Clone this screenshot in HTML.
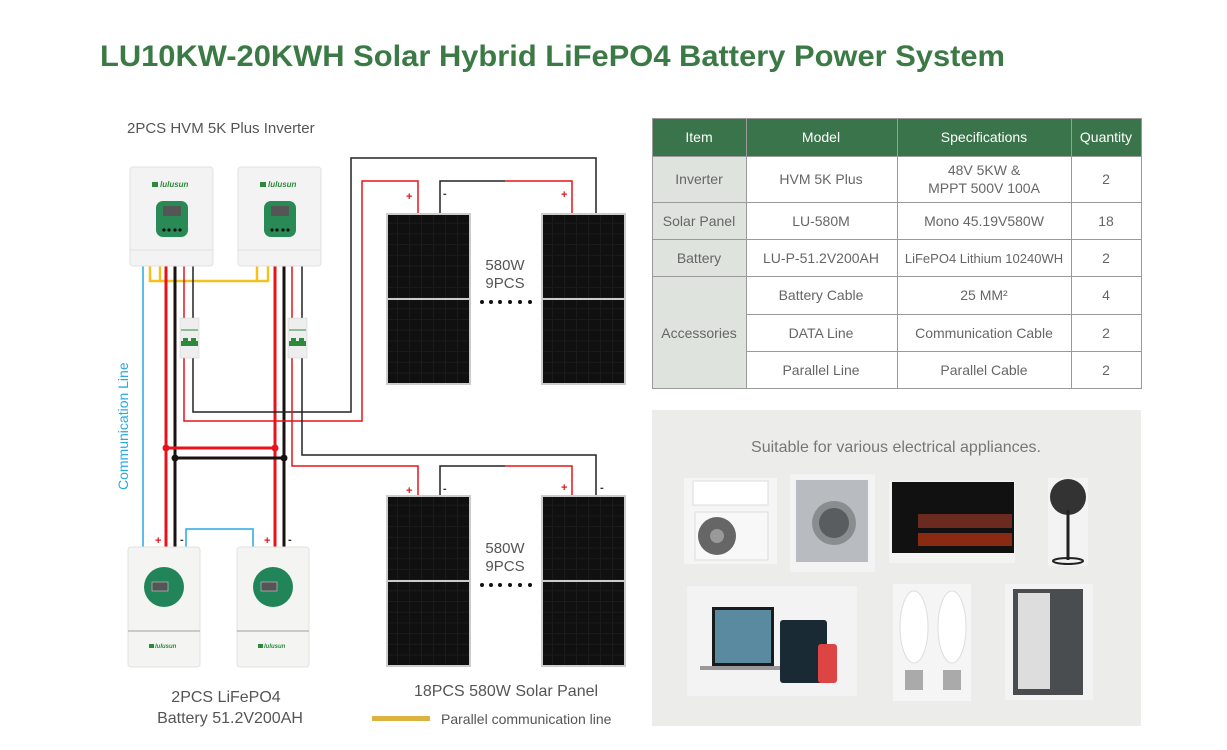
<!DOCTYPE html>
<html><head><meta charset="utf-8"><style>
html,body{margin:0;padding:0;background:#fff;}
svg{display:block;font-family:"Liberation Sans",sans-serif;}
</style></head><body>
<svg width="1227" height="750" viewBox="0 0 1227 750" xmlns="http://www.w3.org/2000/svg">
<defs>
<pattern id="cells" width="12" height="10.7" patternUnits="userSpaceOnUse">
<rect width="12" height="10.7" fill="#1b1b1b"/>
<rect x="0" y="0" width="11" height="9.7" fill="#101010"/>
</pattern>
<g id="panel">
<rect x="0" y="0" width="85" height="172" fill="#ccc"/>
<rect x="2" y="2" width="81" height="83" fill="url(#cells)"/>
<rect x="2" y="87" width="81" height="83" fill="url(#cells)"/>
</g>
<g id="inv">
<rect x="0" y="0" width="83" height="99" rx="3" fill="#f3f3f3" stroke="#e2e2e2"/>
<line x1="0" y1="83" x2="83" y2="83" stroke="#e0e0e0"/>
<rect x="22" y="15" width="6" height="5" fill="#2d8a3c"/>
<text x="30" y="20" font-size="8" font-style="italic" font-weight="bold" fill="#2d8a3c">lulusun</text>
<rect x="26" y="34" width="32" height="36" rx="7" fill="#2a8a56"/>
<rect x="33" y="39" width="18" height="10" fill="#555"/>
<circle cx="34" cy="63" r="1.6" fill="#111"/><circle cx="39" cy="63" r="1.6" fill="#111"/><circle cx="45" cy="63" r="1.6" fill="#111"/><circle cx="50" cy="63" r="1.6" fill="#111"/>
</g>
<g id="bat">
<rect x="0" y="0" width="72" height="120" rx="3" fill="#f4f5f2" stroke="#e2e2e2"/>
<line x1="0" y1="84" x2="72" y2="84" stroke="#bbb" stroke-width="1.5"/>
<circle cx="36" cy="40" r="20" fill="#22855a"/>
<rect x="24" y="35" width="16" height="9" fill="#555" stroke="#ccc" stroke-width="0.6"/>
<rect x="21" y="97" width="5" height="4" fill="#2d8a3c"/>
<text x="27" y="101" font-size="6" font-style="italic" font-weight="bold" fill="#2d8a3c">lulusun</text>
</g>
<g id="brk">
<rect x="0" y="0" width="19" height="40" fill="#eee" stroke="#ccc" stroke-width="0.5"/>
<rect x="1" y="23" width="17" height="5" fill="#2d8a3c"/>
<rect x="3" y="20" width="5" height="6" fill="#2d8a3c"/><rect x="11" y="20" width="5" height="6" fill="#2d8a3c"/>
<line x1="1" y1="12" x2="18" y2="12" stroke="#2d8a3c"/>
</g>
</defs>

<text x="100" y="66" font-size="30" font-weight="bold" fill="#3b7a45" textLength="905" lengthAdjust="spacingAndGlyphs">LU10KW-20KWH Solar Hybrid LiFePO4 Battery Power System</text>

<text x="127" y="133" font-size="15" fill="#555">2PCS HVM 5K Plus Inverter</text>

<g fill="none">
<polyline points="143,266 143,547" stroke="#29a9e1" stroke-width="1.5"/>
<polyline points="186,547 186,529 253,529 253,547" stroke="#29a9e1" stroke-width="1.5"/>
<polyline points="150,266 150,281 268,281 268,266" stroke="#f5c11e" stroke-width="2.5"/>
<polyline points="160,266 160,281" stroke="#f5c11e" stroke-width="2.5"/>
<polyline points="257,266 257,281" stroke="#f5c11e" stroke-width="2.5"/>
<line x1="166" y1="266" x2="166" y2="547" stroke="#e8131a" stroke-width="3"/>
<line x1="275" y1="266" x2="275" y2="547" stroke="#e8131a" stroke-width="3"/>
<line x1="175" y1="266" x2="175" y2="547" stroke="#1a1111" stroke-width="3"/>
<line x1="284" y1="266" x2="284" y2="547" stroke="#1a1111" stroke-width="3"/>
<line x1="166" y1="448" x2="275" y2="448" stroke="#e8131a" stroke-width="3"/>
<line x1="175" y1="458" x2="284" y2="458" stroke="#1a1111" stroke-width="3"/>
<polyline points="193,266 193,412 351,412 351,158 596,158 596,213" stroke="#222" stroke-width="1.5"/>
<polyline points="184,266 184,421 362,421 362,181 418,181 418,213" stroke="#e8131a" stroke-width="1.5"/>
<polyline points="440,213 440,181 505,181" stroke="#222" stroke-width="1.5"/>
<polyline points="505,181 572,181 572,213" stroke="#e8131a" stroke-width="1.5"/>
<polyline points="302,266 302,455 596,455 596,495" stroke="#222" stroke-width="1.5"/>
<polyline points="292,266 292,466 418,466 418,495" stroke="#e8131a" stroke-width="1.5"/>
<polyline points="440,495 440,466 505,466" stroke="#222" stroke-width="1.5"/>
<polyline points="505,466 572,466 572,495" stroke="#e8131a" stroke-width="1.5"/>
</g>
<circle cx="166" cy="448" r="3.5" fill="#e8131a"/><circle cx="275" cy="448" r="3.5" fill="#e8131a"/>
<circle cx="175" cy="458" r="3.5" fill="#1a1111"/><circle cx="284" cy="458" r="3.5" fill="#1a1111"/>

<use href="#brk" x="180" y="318"/>
<use href="#brk" x="288" y="318"/>
<use href="#inv" x="130" y="167"/>
<use href="#inv" x="238" y="167"/>
<use href="#bat" x="128" y="547"/>
<use href="#bat" x="237" y="547"/>

<text transform="translate(128,490) rotate(-90)" font-size="14" fill="#29a9e1">Communication Line</text>

<g font-size="11" font-weight="bold">
<text x="406" y="200" fill="#e8131a">+</text><text x="443" y="197" fill="#333">-</text>
<text x="561" y="198" fill="#e8131a">+</text>
<text x="406" y="494" fill="#e8131a">+</text><text x="443" y="492" fill="#333">-</text>
<text x="561" y="491" fill="#e8131a">+</text><text x="600" y="491" fill="#333">-</text>
<text x="155" y="544" fill="#e8131a">+</text><text x="180" y="543" fill="#333">-</text>
<text x="264" y="544" fill="#e8131a">+</text><text x="288" y="543" fill="#333">-</text>
</g>

<use href="#panel" x="386" y="213"/>
<use href="#panel" x="541" y="213"/>
<use href="#panel" x="386" y="495"/>
<use href="#panel" x="541" y="495"/>
<g font-size="15" fill="#555" text-anchor="middle">
<text x="505" y="270">580W</text><text x="505" y="288">9PCS</text>
<text x="505" y="553">580W</text><text x="505" y="571">9PCS</text>
</g>
<g fill="#111">
<circle cx="482" cy="302" r="2"/><circle cx="491" cy="302" r="2"/><circle cx="500" cy="302" r="2"/><circle cx="510" cy="302" r="2"/><circle cx="520" cy="302" r="2"/><circle cx="530" cy="302" r="2"/>
<circle cx="482" cy="585" r="2"/><circle cx="491" cy="585" r="2"/><circle cx="500" cy="585" r="2"/><circle cx="510" cy="585" r="2"/><circle cx="520" cy="585" r="2"/><circle cx="530" cy="585" r="2"/>
</g>

<g font-size="16" fill="#555" text-anchor="middle">
<text x="226" y="702">2PCS LiFePO4</text>
<text x="230" y="723">Battery 51.2V200AH</text>
<text x="506" y="696">18PCS 580W Solar Panel</text>
</g>
<rect x="372" y="716" width="58" height="5" fill="#dcb33f"/>
<text x="441" y="724" font-size="14" fill="#555">Parallel communication line</text>

<rect x="652" y="118" width="489" height="38" fill="#3a744a"/>
<rect x="652" y="156" width="94" height="232" fill="#dee3dd"/>
<g stroke="#9a9a9a" stroke-width="1" fill="none">
<rect x="652.5" y="118.5" width="489" height="270"/>
<line x1="746.5" y1="118" x2="746.5" y2="388"/>
<line x1="897.5" y1="118" x2="897.5" y2="388"/>
<line x1="1071.5" y1="118" x2="1071.5" y2="388"/>
<line x1="652" y1="156.5" x2="1141" y2="156.5"/>
<line x1="652" y1="202.5" x2="1141" y2="202.5"/>
<line x1="652" y1="239.5" x2="1141" y2="239.5"/>
<line x1="652" y1="276.5" x2="1141" y2="276.5"/>
<line x1="746" y1="314.5" x2="1141" y2="314.5"/>
<line x1="746" y1="351.5" x2="1141" y2="351.5"/>
</g>
<g font-size="14" fill="#fff" text-anchor="middle">
<text x="699" y="142">Item</text><text x="821" y="142">Model</text><text x="984" y="142">Specifications</text><text x="1106" y="142">Quantity</text>
</g>
<g font-size="14" fill="#666" text-anchor="middle">
<text x="699" y="184">Inverter</text><text x="821" y="184">HVM 5K Plus</text>
<text x="984" y="175">48V 5KW &amp;</text><text x="984" y="193">MPPT 500V 100A</text><text x="1106" y="184">2</text>
<text x="699" y="226">Solar Panel</text><text x="821" y="226">LU-580M</text><text x="984" y="226">Mono 45.19V580W</text><text x="1106" y="226">18</text>
<text x="699" y="263">Battery</text><text x="821" y="263">LU-P-51.2V200AH</text><text x="984" y="263" font-size="13">LiFePO4 Lithium 10240WH</text><text x="1106" y="263">2</text>
<text x="699" y="338">Accessories</text>
<text x="821" y="300">Battery Cable</text><text x="984" y="300">25 MM²</text><text x="1106" y="300">4</text>
<text x="821" y="338">DATA Line</text><text x="984" y="338">Communication Cable</text><text x="1106" y="338">2</text>
<text x="821" y="375">Parallel Line</text><text x="984" y="375">Parallel Cable</text><text x="1106" y="375">2</text>
</g>

<rect x="652" y="410" width="489" height="316" fill="#ececea"/>
<text x="896" y="452" font-size="16" fill="#777" text-anchor="middle">Suitable for various electrical appliances.</text>
<rect x="684" y="478" width="93" height="86" fill="#f5f5f5"/>
<rect x="693" y="481" width="75" height="24" fill="#fff" stroke="#ddd"/>
<rect x="695" y="512" width="73" height="48" fill="#f8f8f8" stroke="#ddd"/>
<circle cx="717" cy="536" r="19" fill="#666"/><circle cx="717" cy="536" r="7" fill="#999"/>
<rect x="790" y="474" width="85" height="98" fill="#f3f3f3"/>
<rect x="796" y="480" width="72" height="82" fill="#b8bcc0"/>
<circle cx="834" cy="523" r="22" fill="#8a8d90"/><circle cx="834" cy="523" r="15" fill="#5a5d60"/>
<rect x="889" y="481" width="126" height="82" fill="#f3f3f3"/>
<rect x="892" y="482" width="122" height="71" fill="#111"/>
<rect x="918" y="514" width="94" height="14" fill="#6a2a20"/>
<rect x="918" y="533" width="94" height="13" fill="#8a2a12"/>
<rect x="1048" y="478" width="40" height="88" fill="#f3f3f3"/>
<circle cx="1068" cy="497" r="18" fill="#333"/><line x1="1068" y1="510" x2="1068" y2="560" stroke="#222" stroke-width="3"/>
<ellipse cx="1068" cy="561" rx="15" ry="3" fill="none" stroke="#222" stroke-width="2"/>
<rect x="687" y="586" width="170" height="110" fill="#f3f3f3"/>
<rect x="712" y="607" width="62" height="59" fill="#1a1a1a"/><rect x="715" y="610" width="56" height="53" fill="#5a8aa0"/>
<rect x="700" y="666" width="86" height="4" fill="#999"/>
<rect x="780" y="620" width="47" height="63" rx="3" fill="#1a2a35"/>
<rect x="818" y="644" width="19" height="39" rx="3" fill="#d44"/>
<rect x="893" y="584" width="78" height="117" fill="#f5f5f5"/>
<ellipse cx="914" cy="627" rx="14" ry="36" fill="#fff" stroke="#ddd"/><ellipse cx="952" cy="627" rx="14" ry="36" fill="#fff" stroke="#ddd"/>
<rect x="905" y="670" width="18" height="20" fill="#aaa"/><rect x="943" y="670" width="18" height="20" fill="#aaa"/>
<rect x="1005" y="584" width="88" height="116" fill="#f3f3f3"/>
<rect x="1013" y="589" width="70" height="106" fill="#4a4d50"/>
<rect x="1018" y="593" width="32" height="96" fill="#ddd"/>
</svg>
</body></html>
